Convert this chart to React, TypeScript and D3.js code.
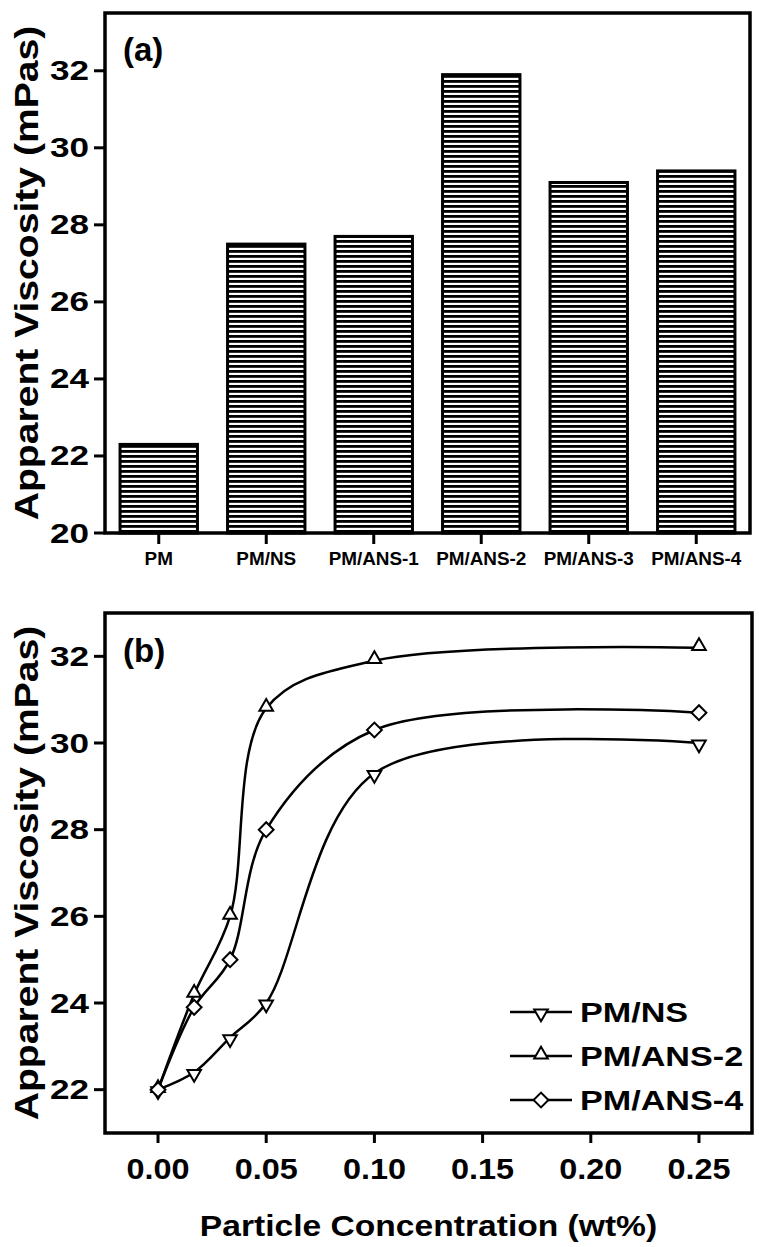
import React from "react";
import * as d3 from "d3";

const categories = ["PM", "PM/NS", "PM/ANS-1", "PM/ANS-2", "PM/ANS-3", "PM/ANS-4"];
const viscosityA = [22.3, 27.5, 27.7, 31.9, 29.1, 29.4];
const yTicksA = [20, 22, 24, 26, 28, 30, 32];

const concentration = [0, 0.0167, 0.0333, 0.05, 0.1, 0.25];
const seriesNames = ["PM/NS", "PM/ANS-2", "PM/ANS-4"];
const nsValues = [22.0, 22.4, 23.2, 24.0, 29.3, 30.0];
const ans2Values = [22.0, 24.2, 26.0, 30.8, 31.9, 32.2];
const ans4Values = [22.0, 23.9, 25.0, 28.0, 30.3, 30.7];
const yTicksB = [22, 24, 26, 28, 30, 32];
const xTicksB = [0, 0.05, 0.1, 0.15, 0.2, 0.25];
const xTickLabelsB = ["0.00", "0.05", "0.10", "0.15", "0.20", "0.25"];

const W = 759;
const H = 1247;
const FONT = "'Liberation Sans', Arial, sans-serif";

function SText({ x, y, sx = 1, sy = 1, rotate = 0, size, anchor = "middle", children, baseline }: any) {
  return (
    <g transform={`translate(${x},${y}) scale(${sx},${sy}) rotate(${rotate})`}>
      <text
        x={0}
        y={0}
        fontFamily={FONT}
        fontWeight="bold"
        fontSize={size}
        textAnchor={anchor}
        dominantBaseline={baseline}
        fill="#000"
      >
        {children}
      </text>
    </g>
  );
}

export default function App() {
  // Panel (a)
  const aL = 105, aR = 750, aT = 13, aB = 533;
  const xA = d3.scaleBand<string>().domain(categories).range([aL, aR]).paddingInner(0.28).paddingOuter(0.14);
  const yA = d3.scaleLinear().domain([20, 33.5]).range([aB, aT]);

  // Panel (b)
  const bL = 105, bR = 752, bT = 613, bB = 1133;
  const xB = d3.scaleLinear().domain([-0.0245, 0.2745]).range([bL, bR]);
  const yB = d3.scaleLinear().domain([21, 33]).range([bB, bT]);

  const series = [nsValues, ans2Values, ans4Values];
  const line = d3
    .line<number>()
    .x((_, i) => xB(concentration[i]))
    .y((d) => yB(d))
    .curve(d3.curveCatmullRom.alpha(0.5));

  const triPath = d3.symbol().type(d3.symbolTriangle).size(80)()!;
  const sqPath = d3.symbol().type(d3.symbolSquare).size(110)()!;

  const marker = (k: number, x: number, y: number, key: string) => {
    if (k === 0)
      return <path key={key} d={triPath} transform={`translate(${x},${y + 1.5}) rotate(180)`} fill="#fff" stroke="#000" strokeWidth={2} />;
    if (k === 1)
      return <path key={key} d={triPath} transform={`translate(${x},${y - 1.5})`} fill="#fff" stroke="#000" strokeWidth={2} />;
    return <path key={key} d={sqPath} transform={`translate(${x},${y}) rotate(45)`} fill="#fff" stroke="#000" strokeWidth={2} />;
  };

  const legendY = [1012, 1056, 1100];

  return (
    <svg width={W} height={H} style={{ position: "absolute", left: 0, top: 0, background: "#fff" }}>
      <defs>
        <pattern id="hatch" patternUnits="userSpaceOnUse" width={8} height={5}>
          <rect x={0} y={0} width={8} height={5} fill="#fff" />
          <rect x={0} y={0} width={8} height={2.8} fill="#000" />
        </pattern>
      </defs>
      <rect x={0} y={0} width={W} height={H} fill="#fff" />

      {/* ===== Panel (a) ===== */}
      {categories.map((c, i) => (
        <rect
          key={c}
          x={xA(c)}
          y={yA(viscosityA[i])}
          width={xA.bandwidth()}
          height={aB - yA(viscosityA[i])}
          fill="url(#hatch)"
          stroke="#000"
          strokeWidth={3}
        />
      ))}
      <rect x={aL} y={aT} width={aR - aL} height={aB - aT} fill="none" stroke="#000" strokeWidth={3.5} />
      {yTicksA.map((t) => (
        <g key={t}>
          <line x1={aL - 11} x2={aL} y1={yA(t)} y2={yA(t)} stroke="#000" strokeWidth={3} />
          <SText x={aL - 16} y={yA(t) + 9.5} sx={1.3} size={27} anchor="end">{t}</SText>
        </g>
      ))}
      {categories.map((c) => {
        const cx = xA(c)! + xA.bandwidth() / 2;
        return (
          <g key={c}>
            <line x1={cx} x2={cx} y1={aB} y2={aB + 11} stroke="#000" strokeWidth={3} />
            <SText x={cx} y={565} sx={1.05} size={18}>{c}</SText>
          </g>
        );
      })}
      <SText x={123} y={61} size={33} anchor="start">(a)</SText>
      <SText x={38} y={(aT + aB) / 2} sy={1.15} rotate={-90} size={34}>Apparent Viscosity (mPas)</SText>

      {/* ===== Panel (b) ===== */}
      {series.map((vals, k) => (
        <path key={k} d={line(vals)!} fill="none" stroke="#000" strokeWidth={2.5} />
      ))}
      {series.map((vals, k) =>
        vals.map((v, i) => marker(k, xB(concentration[i]), yB(v), `${k}-${i}`))
      )}
      <rect x={bL} y={bT} width={bR - bL} height={bB - bT} fill="none" stroke="#000" strokeWidth={3.5} />
      {yTicksB.map((t) => (
        <g key={t}>
          <line x1={bL - 11} x2={bL} y1={yB(t)} y2={yB(t)} stroke="#000" strokeWidth={3} />
          <SText x={bL - 16} y={yB(t) + 9.5} sx={1.3} size={27} anchor="end">{t}</SText>
        </g>
      ))}
      {xTicksB.map((t, i) => (
        <g key={t}>
          <line x1={xB(t)} x2={xB(t)} y1={bB} y2={bB + 10} stroke="#000" strokeWidth={3} />
          <SText x={xB(t)} y={1179} sx={1.08} size={30}>{xTickLabelsB[i]}</SText>
        </g>
      ))}
      <SText x={123} y={662} size={33} anchor="start">(b)</SText>
      <SText x={38} y={(bT + bB) / 2} sy={1.15} rotate={-90} size={34}>Apparent Viscosity (mPas)</SText>
      <SText x={(bL + bR) / 2} y={1236} sx={1.12} size={30}>Particle Concentration (wt%)</SText>

      {/* Legend */}
      {seriesNames.map((name, k) => (
        <g key={name}>
          <line x1={510} x2={572} y1={legendY[k]} y2={legendY[k]} stroke="#000" strokeWidth={2.5} />
          {marker(k, 541, legendY[k], `leg-${k}`)}
          <SText x={580} y={legendY[k] + 10} sx={1.22} size={28} anchor="start">{name}</SText>
        </g>
      ))}
    </svg>
  );
}
